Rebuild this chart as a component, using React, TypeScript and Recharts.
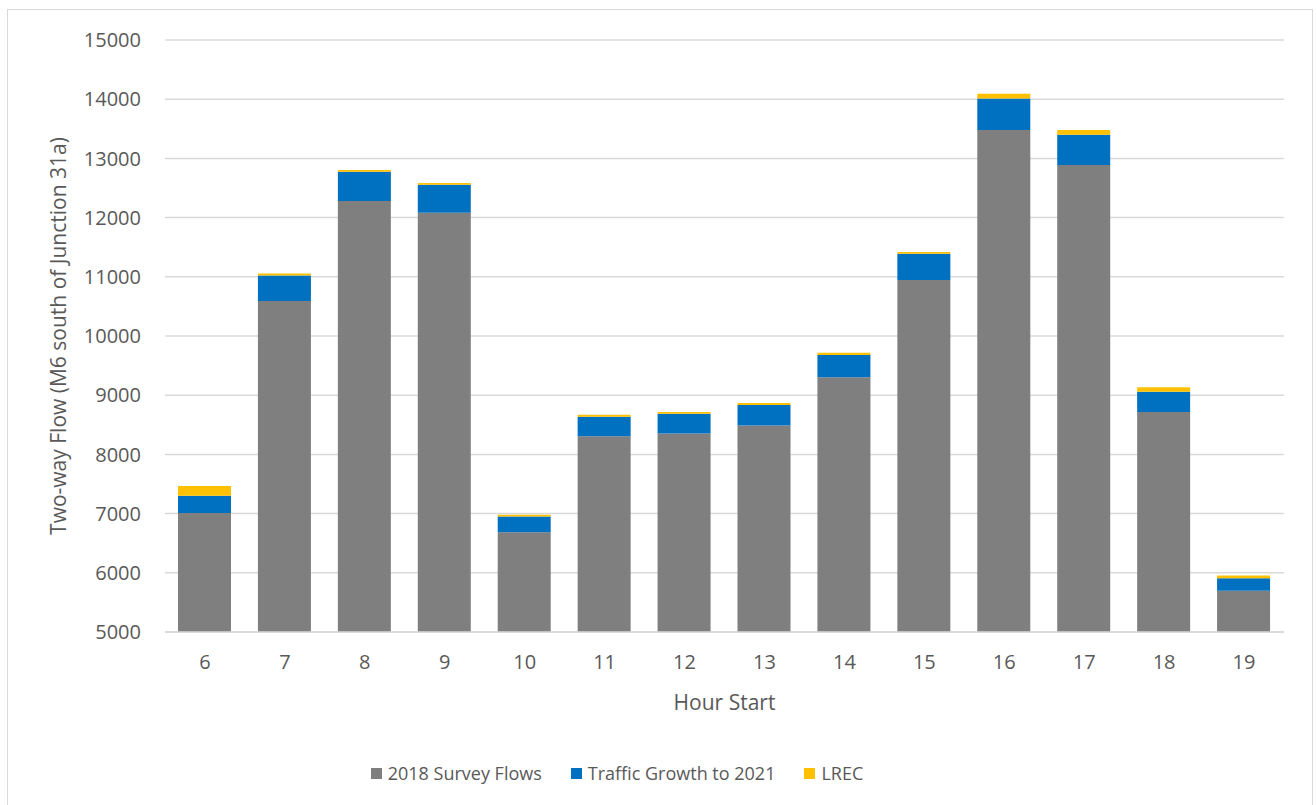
import { BarChart, Bar, XAxis, YAxis, CartesianGrid, Legend } from "recharts";

const hours = ["6", "7", "8", "9", "10", "11", "12", "13", "14", "15", "16", "17", "18", "19"];
const surveyFlows = [7010, 10590, 12280, 12080, 6685, 8305, 8355, 8490, 9305, 10945, 13480, 12890, 8715, 5695];
const trafficGrowth = [290, 430, 495, 475, 265, 330, 330, 345, 375, 445, 530, 510, 345, 215];
const lrec = [165, 35, 30, 30, 30, 35, 30, 35, 35, 30, 80, 80, 75, 45];
const yTicks = [5000, 6000, 7000, 8000, 9000, 10000, 11000, 12000, 13000, 14000, 15000];

const SERIES = [
  { key: "survey", name: "2018 Survey Flows", color: "#7f7f7f" },
  { key: "growth", name: "Traffic Growth to 2021", color: "#0070c0" },
  { key: "lrec", name: "LREC", color: "#ffc000" },
];

const data = hours.map((h, i) => ({
  hour: h,
  survey: surveyFlows[i],
  growth: trafficGrowth[i],
  lrec: lrec[i],
}));

const FONT = "'Open Sans', sans-serif";
const TEXT = "#595959";

function LegendBox() {
  return (
    <div
      style={{
        display: "flex",
        justifyContent: "center",
        alignItems: "center",
        height: 30,
        paddingRight: 58,
        fontFamily: FONT,
        fontSize: 18,
        color: TEXT,
        gap: 29,
      }}
    >
      {SERIES.map((s) => (
        <span key={s.key} style={{ display: "flex", alignItems: "center", gap: 6 }}>
          <span style={{ width: 11, height: 11, background: s.color, display: "inline-block" }} />
          {s.name}
        </span>
      ))}
    </div>
  );
}

export default function App() {
  return (
    <div
      style={{
        position: "absolute",
        left: 7,
        top: 9,
        width: 1304,
        height: 805,
        border: "1px solid #d9d9d9",
        background: "#fff",
      }}
    >
      <BarChart
        width={1304}
        height={790}
        data={data}
        margin={{ top: 30, right: 28, bottom: 12, left: 0 }}
      >
        <CartesianGrid vertical={false} stroke="#d9d9d9" strokeWidth={1.5} />
        <XAxis
          dataKey="hour"
          height={126}
          axisLine={{ stroke: "#d9d9d9", strokeWidth: 1.5 }}
          tickLine={false}
          tickSize={0}
          tickMargin={23}
          tick={{ fill: TEXT, fontSize: 20, fontFamily: FONT }}
          label={({ viewBox }: any) => (
            <text
              x={viewBox.x + viewBox.width / 2}
              y={viewBox.y + 70}
              textAnchor="middle"
              dominantBaseline="central"
              fill={TEXT}
              fontSize={21}
              fontFamily={FONT}
            >
              Hour Start
            </text>
          )}
        />
        <YAxis
          width={157}
          domain={[5000, 15000]}
          allowDataOverflow
          ticks={yTicks}
          axisLine={false}
          tickLine={false}
          tickSize={0}
          tickMargin={24}
          tick={{ fill: TEXT, fontSize: 20, fontFamily: FONT }}
          label={({ viewBox }: any) => {
            const cx = 50;
            const cy = viewBox.y + viewBox.height / 2;
            return (
              <text
                x={cx}
                y={cy}
                transform={`rotate(-90 ${cx} ${cy})`}
                textAnchor="middle"
                dominantBaseline="central"
                fill={TEXT}
                fontSize={21}
                fontFamily={FONT}
              >
                Two-way Flow (M6 south of Junction 31a)
              </text>
            );
          }}
        />
        <Legend verticalAlign="bottom" content={() => <LegendBox />} />
        {SERIES.map((s) => (
          <Bar
            key={s.key}
            dataKey={s.key}
            name={s.name}
            stackId="a"
            fill={s.color}
            barSize={53}
            isAnimationActive={false}
          />
        ))}
      </BarChart>
    </div>
  );
}
